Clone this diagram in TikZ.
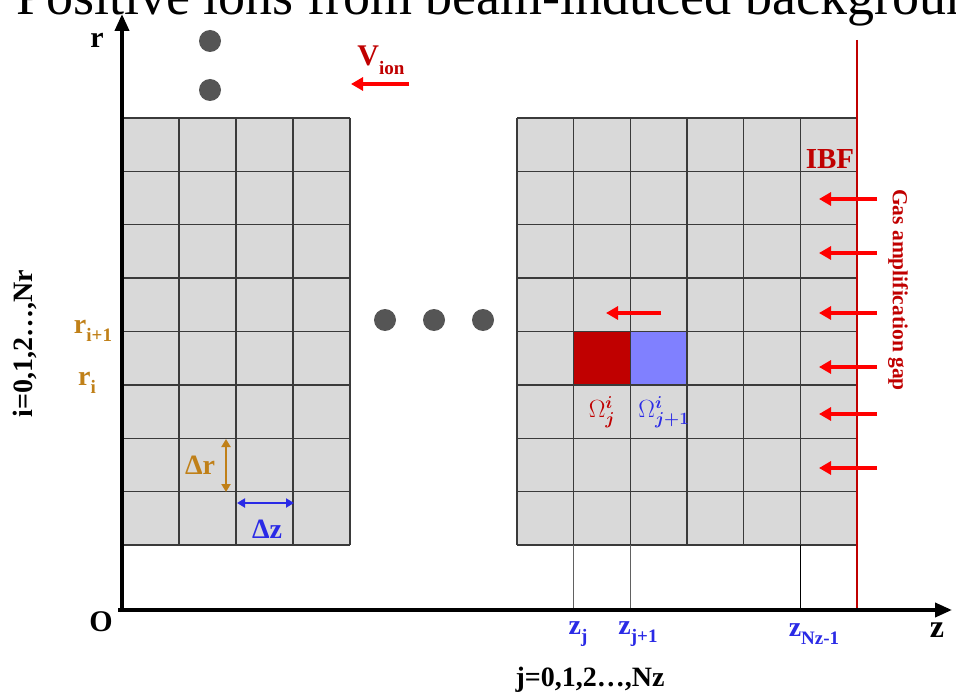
\documentclass[tikz,border=0pt]{standalone}
\usepackage{amsmath}
\usepackage{fontspec}
\setmainfont{Liberation Serif}
\usetikzlibrary{arrows.meta}
\definecolor{gridfill}{HTML}{D9D9D9}
\definecolor{gridline}{HTML}{3A3A3A}
\definecolor{dred}{HTML}{C00000}
\definecolor{brn}{HTML}{C08018}
\definecolor{blu}{HTML}{2A2AE6}
\definecolor{lblue}{HTML}{8080FF}
\definecolor{dotc}{HTML}{555555}
\newcommand\fsz[1]{\fontsize{#1}{#1}\selectfont}
\newcommand\subx[1]{\raisebox{-0.3em}{\fsz{19}#1}}
\tikzset{
  lab/.style={font=\bfseries\fsz{28}, inner sep=0pt},
  gline/.style={draw=gridline, line width=1.4pt},
  axis/.style={line width=3.8pt, -{Triangle[length=17pt,width=14pt]}},
  redarrow/.style={draw=red, line width=3.6pt, -{Triangle[length=12pt,width=13pt]}},
  dimarrow/.style={line width=2pt, {Triangle[length=8pt,width=9pt]}-{Triangle[length=8pt,width=9pt]}},
  dotn/.style={circle, fill=dotc, minimum size=22pt, inner sep=0pt},
}
\begin{document}
\begin{tikzpicture}[x=1pt, y=-1pt]
\clip (0,0) rectangle (956,695);
\fill[white] (0,0) rectangle (956,695);
% cut title
\node[anchor=base west, inner sep=0pt, font=\fsz{54}] (title) at (16,15) {Positive ions from beam-induced background};
% left grid
\fill[gridfill] (122,118) rectangle (350,545);
\foreach \k in {0,...,4} \draw[gline] ({122+57*\k},118) -- ({122+57*\k},545);
\foreach \k in {0,...,8} \draw[gline] (122,{118+53.375*\k}) -- (350,{118+53.375*\k});
% right grid
\fill[gridfill] (517,118) rectangle (857,545);
\fill[dred] (574,331.5) rectangle (630.3,384.9);
\fill[lblue] (630.3,331.5) rectangle (687,384.9);
\foreach \k in {0,...,5} \draw[gline] ({517+56.667*\k},118) -- ({517+56.667*\k},545);
\foreach \k in {0,...,8} \draw[gline] (517,{118+53.375*\k}) -- (857,{118+53.375*\k});
% drop lines
\draw[gridline!80, line width=1.2pt] (573.7,545) -- (573.7,610);
\draw[gridline!80, line width=1.2pt] (630.3,545) -- (630.3,610);
\draw[black, line width=1pt] (800.3,545) -- (800.3,610);
% red boundary line
\draw[dred, line width=2.8pt] (857,40) -- (857,610);
% axes
\coordinate (O) at (122,610);
\coordinate (rtop) at (122,14);
\coordinate (zend) at (952,610);
\draw[axis] (122,612) -- (rtop);
\draw[axis] (118,610) -- (zend);
% dots
\node[dotn] (d1) at (210,41) {};
\node[dotn] (d2) at (210,90) {};
\node[dotn] (d3) at (385,320) {};
\node[dotn] (d4) at (434,320) {};
\node[dotn] (d5) at (483,320) {};
% V_ion
\node[lab, text=dred, font=\bfseries\fsz{30}] (vion) at (381,60) {V\subx{ion}};
\coordinate (va) at (409,84); \coordinate (vb) at (351,84);
\draw[redarrow] (va) -- (vb);
% IBF
\node[lab, text=dred, font=\bfseries\fsz{29}] (ibf) at (830,159) {IBF};
\foreach \y [count=\n] in {199,253,313,367,414,468} {
  \coordinate (ra\n) at (877,\y); \coordinate (rb\n) at (819,\y);
  \draw[redarrow] (ra\n) -- (rb\n);
}
\node[lab, text=dred, font=\bfseries\fsz{21.5}, rotate=-90] (gas) at (898,290) {Gas amplification gap};
% arrow above red cell
\coordinate (ca) at (661,313); \coordinate (cb) at (606,313);
\draw[redarrow] (ca) -- (cb);
% Omega labels
\node[inner sep=0pt, text=dred, font=\fsz{26}] (om1) at (602,412) {$\Omega^{\boldsymbol{i}}_{\boldsymbol{j}}$};
\node[inner sep=0pt, text=blu, font=\fsz{26}] (om2) at (664,412) {$\Omega^{\boldsymbol{i}}_{\boldsymbol{j+1}}$};
% delta r / delta z
\coordinate (dra) at (226,439); \coordinate (drb) at (226,492);
\draw[dimarrow, brn] (dra) -- (drb);
\node[lab, text=brn] (drl) at (200,465) {Δr};
\coordinate (dza) at (237,503); \coordinate (dzb) at (294,503);
\draw[dimarrow, blu] (dza) -- (dzb);
\node[lab, text=blu] (dzl) at (267,529) {Δz};
% r labels
\node[lab, text=brn] (ri1) at (93,331) {r\subx{i+1}};
\node[lab, text=brn] (ri) at (87,383) {r\subx{i}};
\node[lab, font=\bfseries\fsz{30}] (rl) at (97,40) {r};
\node[lab, font=\bfseries\fsz{30}] (ol) at (101,622) {O};
\node[lab, font=\bfseries\fsz{32}] (zl) at (937,630) {z};
\node[lab, rotate=90] (il) at (25,344) {i=0,1,2…,Nr};
% z labels
\node[lab, text=blu] (zj) at (578,634) {z\subx{j}};
\node[lab, text=blu] (zj1) at (638,634) {z\subx{j+1}};
\node[lab, text=blu] (zn) at (814,634) {z\subx{Nz-1}};
\node[lab] (jl) at (590,680) {j=0,1,2…,Nz};
\end{tikzpicture}
\end{document}
